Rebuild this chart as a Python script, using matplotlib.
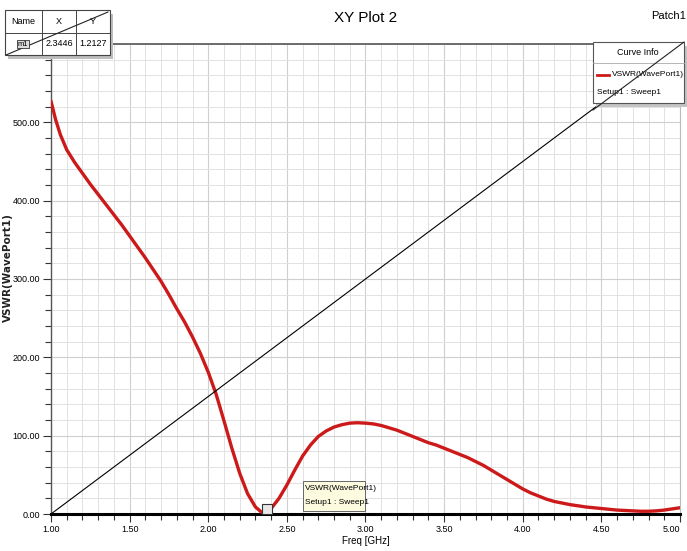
import matplotlib
matplotlib.use("Agg")
import matplotlib.pyplot as plt
from matplotlib.patches import Rectangle
from matplotlib.lines import Line2D
import matplotlib.transforms as mtransforms
import numpy as np

plt.rcParams['font.family'] = ['Liberation Sans', 'DejaVu Sans']

# ---- data ----
freq = [1.00, 1.03, 1.06, 1.10, 1.15, 1.20, 1.25, 1.30, 1.35, 1.40, 1.45, 1.50,
        1.55, 1.60, 1.65, 1.70, 1.75, 1.80, 1.85, 1.90, 1.95, 2.00, 2.05, 2.10,
        2.15, 2.20, 2.25, 2.30, 2.345, 2.40, 2.45, 2.50, 2.55, 2.60, 2.65, 2.70,
        2.75, 2.80, 2.85, 2.90, 2.95, 3.00, 3.05, 3.10, 3.15, 3.20, 3.25, 3.30,
        3.35, 3.40, 3.45, 3.50, 3.55, 3.60, 3.65, 3.70, 3.75, 3.80, 3.85, 3.90,
        3.95, 4.00, 4.05, 4.10, 4.15, 4.20, 4.25, 4.30, 4.35, 4.40, 4.45, 4.50,
        4.55, 4.60, 4.65, 4.70, 4.75, 4.80, 4.85, 4.90, 4.95, 5.00]
vswr = [527, 503, 484, 465, 449, 435, 421, 408, 395, 382, 369, 355,
        341, 327, 312, 297, 280, 262, 245, 226, 205, 181, 153, 119,
        84, 52, 26, 9, 1.2, 7, 20, 37, 56, 74, 88, 99,
        106, 111, 114, 116, 116.5, 116, 115, 113, 110, 107, 103, 99,
        95, 91, 88, 84, 80, 76, 72, 67, 62, 56, 50, 44,
        38, 32, 27, 23, 19, 16, 14, 12, 10.5, 9, 8, 7,
        6, 5, 4.5, 4, 3.5, 3.5, 4, 5, 6.5, 8]
ref_x = [1.0, 5.0]
ref_y = [0, 600]
xticks = [1.0, 1.5, 2.0, 2.5, 3.0, 3.5, 4.0, 4.5, 5.0]
yticks = [0, 100, 200, 300, 400, 500]
marker_x, marker_y = 2.3446, 1.2127

W, H = 687, 551
fig = plt.figure(figsize=(W / 100, H / 100), dpi=100)

def fx(px):
    return px / W

def fy(py):
    return 1 - py / H

ax = fig.add_axes([fx(51), fy(514), fx(680) - fx(51), fy(44) - fy(514)])
ax.set_xlim(1.0, 5.0)
ax.set_ylim(0, 600)
ax.set_xticks(xticks)
ax.set_xticks(np.arange(1.0, 5.001, 0.1), minor=True)
ax.set_yticks(yticks)
ax.set_yticks(np.arange(0, 601, 20), minor=True)
ax.set_xticklabels([f"{v:.2f}" for v in xticks], fontsize=6.5)
ax.set_yticklabels([f"{v:.2f}" for v in yticks], fontsize=6.5)
labs = ax.get_xticklabels()
labs[-1].set_horizontalalignment('right')
labs[-1].set_transform(labs[-1].get_transform() + mtransforms.ScaledTranslation(6 / 100, 0, fig.dpi_scale_trans))
ax.grid(which='major', color='#cfcfcf', linewidth=0.8)
ax.grid(which='minor', color='#e2e2e2', linewidth=0.7)
ax.set_axisbelow(True)
ax.tick_params(which='major', length=6, width=0.8, color='#333333', pad=2)
ax.tick_params(which='minor', length=4, width=0.8, color='#333333')
ax.spines['left'].set_color('#555555'); ax.spines['left'].set_linewidth(1.0)
ax.spines['bottom'].set_color('black'); ax.spines['bottom'].set_linewidth(2.2)
ax.spines['top'].set_color('#555555'); ax.spines['top'].set_linewidth(1.2)
ax.spines['right'].set_color('#bbbbbb'); ax.spines['right'].set_linewidth(0.8)

ax.plot(ref_x, ref_y, color='black', linewidth=0.8, zorder=5, clip_on=False)
ax.plot(freq, vswr, color='#cc1a1a', linewidth=2.4, zorder=4, solid_capstyle='round')

ax.set_xlabel('Freq [GHz]', fontsize=7, labelpad=1)
fig.text(fx(8), fy(268), 'VSWR(WavePort1)', fontsize=7.5, fontweight='bold',
         family='DejaVu Sans', rotation=90, ha='center', va='center', color='#222222')

# marker square
ax.plot([2.375], [7], marker='s', markersize=7, markerfacecolor='#e8e8e8',
        markeredgecolor='#333333', markeredgewidth=0.8, zorder=6)

# marker annotation box
fig.patches.append(Rectangle((fx(303), fy(511)), fx(365) - fx(303), fy(481) - fy(511),
                             transform=fig.transFigure, facecolor='#fcfbe0',
                             edgecolor='#666666', linewidth=0.7, zorder=10))
fig.text(fx(305), fy(488), 'VSWR(WavePort1)', fontsize=6, va='center', ha='left', zorder=11)
fig.text(fx(305), fy(503), 'Setup1 : Sweep1', fontsize=6, va='center', ha='left', zorder=11)

# title
fig.text(fx(366), fy(18), 'XY Plot 2', fontsize=11, ha='center', va='center')
fig.text(fx(686), fy(16), 'Patch1', fontsize=8, ha='right', va='center')

# marker table (top-left)
fig.patches.append(Rectangle((fx(8), fy(59)), fx(105), fy(10) - fy(55),
                             transform=fig.transFigure, facecolor='#bdbdbd',
                             edgecolor='none', zorder=9))
fig.patches.append(Rectangle((fx(5), fy(55)), fx(105), fy(10) - fy(55),
                             transform=fig.transFigure, facecolor='white',
                             edgecolor='#444444', linewidth=0.8, zorder=10))
for xx in [42, 76]:
    fig.lines.append(Line2D([fx(xx), fx(xx)], [fy(10), fy(55)], transform=fig.transFigure,
                            color='#444444', linewidth=0.7, zorder=11))
fig.lines.append(Line2D([fx(5), fx(110)], [fy(33), fy(33)], transform=fig.transFigure,
                        color='#444444', linewidth=0.7, zorder=11))
fig.lines.append(Line2D([fx(6), fx(108)], [fy(55), fy(12)], transform=fig.transFigure,
                        color='#222222', linewidth=0.8, zorder=12))
fig.text(fx(23), fy(22), 'Name', fontsize=6.5, ha='center', va='center', zorder=12)
fig.text(fx(59), fy(22), 'X', fontsize=6.5, ha='center', va='center', zorder=12)
fig.text(fx(93), fy(22), 'Y', fontsize=6.5, ha='center', va='center', zorder=12)
fig.text(fx(23), fy(44), 'm1', fontsize=5.5, ha='center', va='center', zorder=12,
         bbox=dict(boxstyle='square,pad=0.1', facecolor='#dddddd', edgecolor='#333333', linewidth=0.6))
fig.text(fx(59), fy(44), f"{marker_x:.4f}", fontsize=6.5, ha='center', va='center', zorder=12)
fig.text(fx(93), fy(44), f"{marker_y:.4f}", fontsize=6.5, ha='center', va='center', zorder=12)

# curve info box
fig.patches.append(Rectangle((fx(596), fy(107)), fx(91), fy(42) - fy(103),
                             transform=fig.transFigure, facecolor='#c4c4c4',
                             edgecolor='none', zorder=9))
fig.patches.append(Rectangle((fx(593), fy(103)), fx(91), fy(42) - fy(103),
                             transform=fig.transFigure, facecolor='white',
                             edgecolor='#555555', linewidth=0.8, zorder=10))
fig.lines.append(Line2D([fx(593), fx(684)], [fy(63), fy(63)], transform=fig.transFigure,
                        color='#aaaaaa', linewidth=0.6, zorder=11))
fig.text(fx(638), fy(53), 'Curve Info', fontsize=6.5, ha='center', va='center', zorder=12)
fig.lines.append(Line2D([fx(597), fx(609)], [fy(75), fy(75)], transform=fig.transFigure,
                        color='#cc1a1a', linewidth=2.0, zorder=12))
fig.text(fx(612), fy(75), 'VSWR(WavePort1)', fontsize=6, ha='left', va='center', zorder=12)
fig.text(fx(597), fy(92), 'Setup1 : Sweep1', fontsize=6, ha='left', va='center', zorder=12)
fig.lines.append(Line2D([fx(593), fx(684)], [fy(110), fy(42)], transform=fig.transFigure,
                        color='#222222', linewidth=0.8, zorder=13))

fig.savefig('out.png', dpi=100)
